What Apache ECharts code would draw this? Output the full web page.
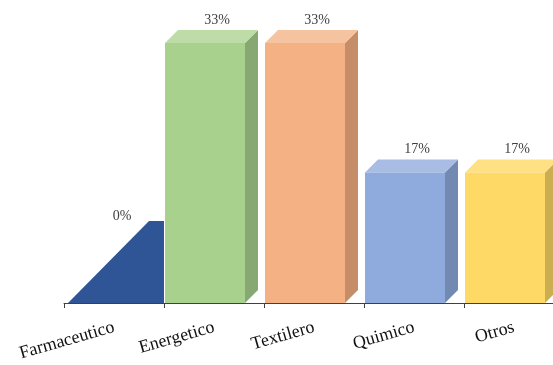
<!DOCTYPE html>
<html><head><meta charset="utf-8">
<script src="https://cdn.jsdelivr.net/npm/echarts@6/dist/echarts.min.js"></script>
<style>html,body{margin:0;padding:0;background:#fff}#c{width:553px;height:365px}</style>
</head><body><div id="c"></div>
<script>
const categories = ['Farmaceutico','Energetico','Textilero','Quimico','Otros'];
const values = [0, 33.3, 33.3, 16.7, 16.7];
const frontColors = ['#2F5597','#A9D18E','#F4B183','#8FAADC','#FFD966'];
const topColors = ['#2F5597','#BDDCA8','#F6C3A0','#A8BCE4','#FFE083'];
const sideColors = ['#2F5597','#87A872','#C68E68','#7289B2','#CCAE52'];

const chart = echarts.init(document.getElementById('c'), null, {renderer:'canvas'});
const DEPTH = 13;
function renderItem(params, api){
  const idx = api.value(0);
  const val = api.value(1);
  const base = api.coord([idx, 0]);
  const topPt = api.coord([idx, val]);
  const bw = api.size([1,0])[0];
  const x0 = base[0] - bw/2 + 1;
  const w = bw*0.8;
  const yb = base[1], yt = topPt[1];
  const d = DEPTH;
  const lbl = (txt, x, y) => ({type:'text', style:{text:txt, x:x, y:y, fill:'#404040', font:'14px "Liberation Serif"', align:'center', verticalAlign:'middle'}});
  if (val === 0) {
    const h = bw*0.82;
    return {type:'group', children:[
      {type:'polygon', shape:{points:[[x0+bw*0.03, yb],[x0+bw*0.84, yb-h],[x0+bw-1, yb-h],[x0+bw-1, yb]]}, style:{fill:frontColors[idx]}},
      lbl(Math.round(val)+'%', x0+bw*0.57, yb-h-5)
    ]};
  }
  return {type:'group', children:[
    {type:'polygon', shape:{points:[[x0+w, yt],[x0+w+d, yt-d],[x0+w+d, yb-d],[x0+w, yb]]}, style:{fill:sideColors[idx]}},
    {type:'polygon', shape:{points:[[x0, yt],[x0+d, yt-d],[x0+w+d, yt-d],[x0+w, yt]]}, style:{fill:topColors[idx]}},
    {type:'rect', shape:{x:x0, y:yt, width:w, height:yb-yt}, style:{fill:frontColors[idx]}},
    lbl(Math.round(val)+'%', x0+w/2+d-1, yt-d-10)
  ]};
}
chart.setOption({
  animation:false,
  grid:{left:64, width:500, top:43, bottom:62, outerBoundsMode:'none', containLabel:false},
  xAxis:{type:'category', data:categories, boundaryGap:true,
    axisLine:{lineStyle:{color:'#404040', width:1}},
    axisTick:{show:true, length:5, lineStyle:{color:'#404040'}},
    axisLabel:{rotate:16, interval:0, margin:24, color:'#111', fontFamily:'Liberation Serif', fontSize:18}},
  yAxis:{type:'value', min:0, max:33.3, show:false, splitLine:{show:false}},
  series:[{type:'custom', renderItem:renderItem, clip:false,
    encode:{x:0, y:1},
    data: values.map((v,i)=>[i,v])}]
});
</script></body></html>
